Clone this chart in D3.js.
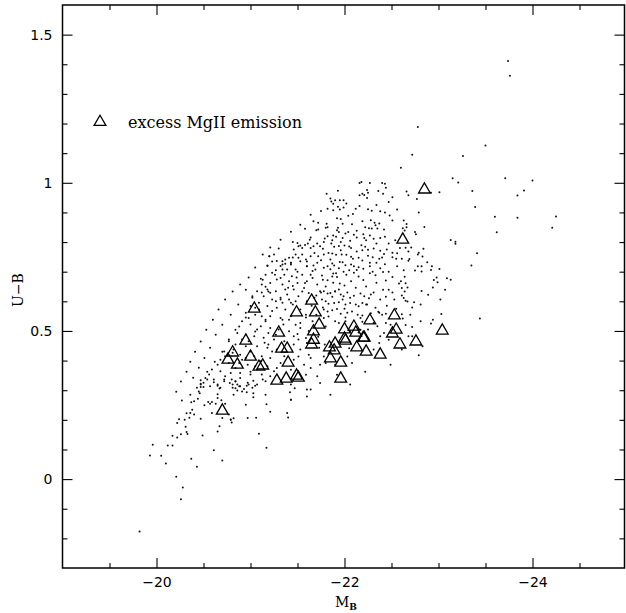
<!DOCTYPE html>
<html>
<head>
<meta charset="utf-8">
<script src="https://cdn.jsdelivr.net/npm/d3@7"></script>
<style>
  body { margin: 0; background: #fff; }
  svg { display: block; }
</style>
</head>
<body>
<svg id="chart" width="626" height="613"></svg>
<script>
// Absolute B magnitude vs. U-B colour for the full sample (dots)
// and the objects with excess MgII emission (triangles).
const galaxies = [
  // bright, red tail
  [-23.74,1.411],[-23.76,1.361],[-23.50,1.126],[-23.26,1.090],[-22.78,1.188],[-22.72,1.095],[-22.60,1.051],[-23.15,1.015],[-23.21,1.001],[-23.71,1.015],[-24.00,1.008],[-23.36,0.972],[-23.84,0.957],[-23.91,0.974],[-23.39,0.918],[-23.60,0.885],[-23.84,0.882],[-24.25,0.886],[-24.21,0.848],[-23.62,0.833],[-23.13,0.807],[-23.18,0.801],[-23.18,0.794],[-23.41,0.762],[-23.35,0.721],
  [-22.66,0.971],[-22.68,0.958],[-23.01,0.968],[-22.77,0.945],[-22.79,0.900],[-22.63,0.873],[-22.66,0.861],[-22.66,0.850],[-22.85,0.851],[-22.64,0.839],[-22.75,0.834],[-22.76,0.826],[-22.65,0.781],[-22.71,0.782],[-22.84,0.777],[-22.68,0.768],[-22.79,0.764],[-22.78,0.758],[-22.83,0.751],[-22.61,0.744],[-22.69,0.743],[-22.68,0.737],[-22.88,0.732],[-22.78,0.718],[-22.82,0.718],[-22.93,0.718],[-22.63,0.705],[-22.75,0.704],[-22.82,0.701],[-22.92,0.706],[-23.01,0.709],[-22.98,0.680],[-23.09,0.678],[-23.13,0.673],[-22.95,0.672],[-22.99,0.664],[-22.65,0.661],[-22.60,0.668],[-22.61,0.645],[-22.67,0.647],[-22.94,0.647],[-22.64,0.633],[-22.82,0.635],[-22.61,0.620],[-22.65,0.602],[-22.67,0.599],[-22.74,0.597],[-22.72,0.579],[-23.03,0.557],[-23.44,0.542],[-22.61,0.556],[-22.62,0.542],
  // upper part of the main locus
  [-22.18,1.003],[-22.16,0.999],[-22.27,0.999],[-22.40,0.999],[-22.43,0.997],[-22.24,0.976],[-22.25,0.966],[-22.36,0.972],[-22.44,0.983],[-21.93,0.973],[-21.81,0.963],[-21.85,0.947],[-21.90,0.941],[-21.95,0.941],[-21.99,0.941],[-22.16,0.958],[-22.19,0.963],[-22.21,0.959],[-22.24,0.949],[-22.41,0.963],[-22.51,0.951],[-22.92,0.966],[-21.88,0.929],[-21.93,0.919],[-21.99,0.917],[-22.16,0.922],[-22.25,0.911],[-22.29,0.906],[-22.38,0.904],[-22.43,0.900],[-21.95,0.910],[-21.88,0.907],[-21.86,0.937],[-21.82,0.912],[-22.04,0.889],[-22.09,0.895],[-21.92,0.880],[-21.96,0.878],[-22.19,0.870],[-22.28,0.874],[-22.51,0.873],[-22.32,0.865],[-22.37,0.863],[-22.33,0.857],[-21.93,0.848],[-22.26,0.847],[-22.29,0.846],[-22.35,0.846],[-22.62,0.847],[-21.92,0.840],[-21.94,0.834],[-22.01,0.829],[-22.04,0.834],[-22.13,0.838],[-22.20,0.826],[-21.88,0.822],[-21.91,0.818],[-21.98,0.814],[-22.06,0.804],[-22.13,0.815],[-22.21,0.814],[-22.23,0.806],[-22.31,0.811],[-22.38,0.814],[-22.54,0.806],[-21.87,0.806],[-21.89,0.784],[-21.94,0.787],[-22.00,0.788],[-22.05,0.785],[-22.07,0.780],[-22.18,0.789],[-22.19,0.772],[-22.22,0.784],[-22.25,0.774],[-22.31,0.778],[-22.38,0.771],[-22.45,0.775],[-22.51,0.764],[-22.59,0.780],[-21.87,0.761],[-21.91,0.757],[-21.97,0.758],[-22.02,0.757],[-22.07,0.750],[-22.09,0.744],[-22.15,0.747],[-22.19,0.738],[-22.25,0.754],[-22.30,0.749],[-22.37,0.744],[-22.42,0.760],[-22.51,0.749],[-22.55,0.744],[-21.85,0.741],[-21.87,0.728],[-21.89,0.721],[-21.95,0.733],[-21.98,0.732],[-22.01,0.722],[-22.07,0.724],[-22.10,0.718],[-22.15,0.715],[-22.27,0.730],[-22.27,0.718],[-22.34,0.730],[-22.43,0.725],[-21.85,0.708],[-21.88,0.694],[-21.91,0.695],[-21.99,0.700],[-22.02,0.690],[-22.10,0.696],[-22.13,0.706],[-22.15,0.684],[-22.27,0.695],[-22.33,0.688],[-22.41,0.699],[-22.51,0.682],[-22.64,0.683],[-21.87,0.684],[-21.92,0.682],
  [-21.88,0.663],[-22.00,0.653],[-22.12,0.646],[-22.23,0.650],[-22.34,0.663],[-22.47,0.639],
  [-21.72,0.865],[-21.81,0.862],[-21.82,0.850],[-21.58,0.845],[-21.70,0.840],[-21.80,0.848],[-21.50,0.797],[-21.51,0.786],[-21.55,0.780],[-21.58,0.790],[-21.61,0.795],[-21.64,0.780],[-21.67,0.786],[-21.71,0.795],[-21.74,0.786],[-21.77,0.777],[-21.79,0.812],[-21.82,0.820],[-21.46,0.775],[-21.41,0.747],[-21.34,0.735],[-21.20,0.752],[-21.18,0.721],[-21.48,0.758],[-21.51,0.747],[-21.55,0.758],[-21.59,0.741],[-21.64,0.752],[-21.68,0.763],[-21.72,0.752],[-21.75,0.739],[-21.78,0.758],[-21.83,0.763],[-21.37,0.727],[-21.43,0.724],[-21.60,0.718],[-21.67,0.721],[-21.82,0.718],
  // densest part of the locus
  [-21.75,0.905],[-22.02,0.930],[-22.12,0.912],[-22.34,0.925],[-22.47,0.935],[-22.08,0.860],[-22.22,0.850],[-22.42,0.842],[-22.48,0.890],[-21.98,0.862],[-21.67,0.870],[-22.56,0.910],
  [-21.86,0.795],[-21.96,0.800],[-22.10,0.825],[-22.27,0.822],[-22.43,0.818],[-22.47,0.795],[-22.34,0.795],[-22.13,0.768],[-21.96,0.772],[-21.78,0.800],[-21.63,0.808],[-21.45,0.800],[-21.30,0.778],[-22.56,0.762],[-22.40,0.748],
  [-21.94,0.712],[-22.05,0.705],[-22.20,0.710],[-22.38,0.712],[-22.47,0.700],[-22.56,0.718],[-22.20,0.672],[-22.07,0.668],[-21.95,0.660],[-21.80,0.650],[-21.64,0.690],[-21.50,0.700],[-21.58,0.662],[-21.45,0.652],[-21.26,0.690],[-22.44,0.670],[-22.58,0.660],[-22.30,0.700],
  [-21.70,0.620],[-21.87,0.615],[-22.00,0.575],[-22.26,0.610],[-22.45,0.585],[-22.55,0.575],[-21.65,0.585],[-21.48,0.600],[-21.27,0.600],[-21.12,0.630],[-22.28,0.560],[-21.70,0.555],
  [-21.80,0.515],[-21.62,0.500],[-21.50,0.490],[-22.25,0.505],[-22.47,0.470],[-21.72,0.480],[-22.65,0.520],[-21.15,0.460],[-20.98,0.465],[-20.88,0.515],
  // middle and faint side of the locus
  [-21.20,0.752],[-21.28,0.736],[-21.37,0.741],[-21.32,0.719],[-21.39,0.707],[-21.23,0.696],[-21.16,0.690],[-21.36,0.690],[-21.28,0.674],[-21.41,0.668],[-21.21,0.662],[-21.34,0.657],[-21.12,0.657],[-21.07,0.634],[-21.18,0.640],[-21.27,0.634],[-21.37,0.640],[-21.14,0.617],[-21.23,0.606],[-21.32,0.612],[-21.41,0.606],[-21.09,0.595],[-21.00,0.584],[-21.18,0.584],[-21.28,0.578],[-21.37,0.572],[-20.95,0.561],[-21.05,0.555],[-21.12,0.550],[-21.21,0.550],[-21.32,0.544],[-21.41,0.538],[-20.91,0.533],[-21.00,0.522],[-21.11,0.516],[-21.21,0.510],[-21.30,0.505],[-20.86,0.493],[-20.95,0.488],[-21.04,0.482],[-21.14,0.477],[-21.25,0.471],[-21.36,0.465],[-20.77,0.465],[-20.84,0.454],[-20.95,0.448],[-21.07,0.448],[-21.18,0.443],[-21.28,0.437],[-20.72,0.431],[-20.81,0.426],[-20.89,0.420],[-21.04,0.415],[-21.12,0.415],[-21.21,0.409],[-21.36,0.415],[-20.68,0.403],[-20.77,0.392],[-20.88,0.392],[-20.97,0.386],[-21.05,0.381],[-21.18,0.381],[-21.28,0.375],[-20.59,0.370],[-20.68,0.364],[-20.79,0.358],[-20.89,0.358],[-21.00,0.353],[-21.12,0.353],[-21.21,0.347],[-20.52,0.341],[-20.61,0.336],[-20.72,0.330],[-20.84,0.330],[-20.97,0.325],[-21.07,0.319],[-20.47,0.319],[-20.57,0.313],[-20.68,0.308],[-20.81,0.308],[-20.93,0.304],
  [-21.25,0.758],[-21.34,0.724],[-21.18,0.719],[-21.43,0.730],[-21.27,0.705],[-21.11,0.676],[-21.32,0.679],[-21.16,0.649],[-21.02,0.617],[-21.21,0.629],[-21.39,0.623],[-21.05,0.578],[-21.23,0.567],[-21.34,0.595],[-20.98,0.544],[-21.16,0.533],[-21.35,0.522],[-21.07,0.505],[-20.91,0.471],[-21.19,0.493],[-20.82,0.437],[-21.00,0.431],[-21.23,0.431],[-20.73,0.415],[-20.95,0.409],[-21.11,0.398],[-20.65,0.386],[-20.84,0.375],[-21.07,0.370],[-21.25,0.364],[-20.56,0.353],[-20.73,0.347],[-20.89,0.341],[-21.16,0.330],[-20.50,0.325],[-20.65,0.319],[-21.02,0.308],[-20.43,0.308],[-20.86,0.319],[-21.32,0.392],
  [-21.43,0.730],[-21.48,0.707],[-21.53,0.735],[-21.60,0.718],[-21.66,0.702],[-21.71,0.730],[-21.78,0.713],[-21.44,0.685],[-21.50,0.662],[-21.55,0.690],[-21.60,0.668],[-21.66,0.679],[-21.71,0.657],[-21.76,0.687],[-21.82,0.671],[-21.46,0.640],[-21.51,0.617],[-21.57,0.645],[-21.62,0.628],[-21.74,0.634],[-21.43,0.595],[-21.53,0.572],[-21.60,0.600],[-21.43,0.550],[-21.53,0.527],[-21.59,0.555],[-21.66,0.533],[-21.41,0.499],[-21.46,0.482],[-21.53,0.510],[-21.59,0.476],[-21.46,0.454],[-21.53,0.437],[-21.60,0.459],[-21.73,0.443],[-21.46,0.403],[-21.51,0.414],[-21.57,0.386],[-21.64,0.409],[-21.43,0.369],[-21.59,0.352],[-21.64,0.375],[-21.71,0.347],[-21.43,0.319],[-21.60,0.302],[-21.74,0.324],[-21.43,0.268],[-21.60,0.279],[-21.39,0.223],
  [-21.75,0.630],[-21.78,0.634],[-21.82,0.626],[-21.85,0.628],[-21.90,0.634],[-21.94,0.640],[-21.96,0.623],[-21.99,0.617],[-22.03,0.630],[-22.10,0.619],[-22.17,0.626],[-22.21,0.617],[-22.28,0.623],[-22.31,0.630],[-22.38,0.606],[-22.44,0.615],[-22.51,0.630],[-22.63,0.611],
  [-21.76,0.606],[-21.80,0.600],[-21.83,0.592],[-21.89,0.594],[-21.94,0.597],[-21.98,0.606],[-22.01,0.589],[-22.06,0.594],[-22.12,0.589],[-22.15,0.583],[-22.19,0.594],[-22.24,0.589],[-22.33,0.578],[-22.37,0.561],[-22.40,0.555],[-22.44,0.558],[-21.78,0.572],[-21.82,0.566],[-21.87,0.570],[-21.92,0.574],[-21.96,0.558],[-22.03,0.561],[-22.08,0.566],[-22.14,0.555],[-22.17,0.544],[-22.19,0.552],[-21.78,0.544],[-21.83,0.549],[-21.90,0.533],[-21.94,0.527],[-22.01,0.533],[-22.31,0.527],[-22.35,0.516],[-22.44,0.527],[-22.72,0.513],[-22.81,0.533],[-22.92,0.525],
  [-22.42,0.493],[-22.37,0.459],[-22.38,0.482],[-22.17,0.504],[-22.15,0.495],[-22.06,0.499],[-22.68,0.482],[-22.72,0.482],[-22.83,0.448],[-22.79,0.418],[-22.61,0.437],[-22.31,0.437],[-22.08,0.392],[-22.03,0.414],[-22.05,0.442],[-21.78,0.414],[-21.80,0.392],[-21.90,0.386],[-21.92,0.352],
  // upper-left edge and inner filling of the locus
  [-21.13,0.758],[-21.21,0.782],[-21.32,0.808],[-21.43,0.835],[-21.53,0.858],[-21.64,0.892],
  [-21.05,0.714],[-20.98,0.680],[-20.89,0.657],[-20.81,0.633],[-20.73,0.606],[-20.66,0.572],[-20.60,0.538],[-20.53,0.504],[-20.47,0.464],[-20.41,0.430],[-20.36,0.396],[-20.32,0.362],[-20.26,0.329],[-20.21,0.295],
  [-20.95,0.639],[-21.02,0.612],[-20.87,0.589],[-20.79,0.555],[-20.70,0.521],[-20.63,0.487],[-20.57,0.443],[-20.51,0.409],[-20.45,0.376],[-20.39,0.342],[-20.95,0.545],[-20.84,0.504],[-20.77,0.471],[-20.70,0.430],[-20.62,0.396],[-20.54,0.362],[-20.47,0.322],[-20.36,0.285],
  [-21.13,0.673],[-21.19,0.633],[-21.09,0.572],[-21.16,0.538],[-21.05,0.498],[-21.19,0.454],[-20.91,0.403],[-21.00,0.362],[-20.81,0.319],
  [-21.23,0.734],[-21.34,0.707],[-21.45,0.748],[-21.53,0.788],[-21.64,0.815],[-21.72,0.842],[-21.60,0.734],[-21.69,0.707],[-21.77,0.673],[-21.49,0.680],[-21.40,0.646],[-21.32,0.606],[-21.45,0.589],[-21.55,0.633],[-21.68,0.612],[-21.77,0.579],[-21.59,0.545],[-21.48,0.521],[-21.34,0.538],[-21.27,0.487],[-21.51,0.471],[-21.79,0.454],[-21.62,0.420],[-21.74,0.386],
  [-21.16,0.285],[-21.43,0.268],[-21.64,0.302],[-21.85,0.285],[-22.06,0.319],[-22.22,0.362],[-22.49,0.386],[-20.95,0.251],[-21.21,0.227],[-20.79,0.201],[-21.09,0.153],
  [-21.90,0.633],[-22.06,0.612],[-22.23,0.589],[-22.41,0.639],[-22.53,0.606],[-22.01,0.545],[-22.19,0.531],[-22.36,0.565],[-22.49,0.521],[-22.70,0.555],[-22.81,0.589],[-22.89,0.622],[-23.02,0.606],[-23.07,0.639],[-22.94,0.538],
  // faint, blue tail
  [-20.27,0.265],[-20.37,0.259],[-20.40,0.263],[-20.46,0.290],[-20.44,0.271],[-20.51,0.249],[-20.55,0.260],[-20.57,0.254],[-20.59,0.260],[-20.63,0.254],[-20.65,0.286],[-20.65,0.274],[-20.69,0.266],[-20.73,0.254],[-20.32,0.222],[-20.36,0.223],[-20.40,0.218],[-20.38,0.234],[-20.59,0.223],[-20.24,0.202],[-20.30,0.200],[-20.35,0.207],[-20.47,0.204],[-20.22,0.189],[-20.31,0.177],[-20.70,0.206],[-20.77,0.218],[-20.79,0.200],[-20.80,0.191],[-20.82,0.205],[-20.97,0.206],[-21.06,0.207],[-21.40,0.208],[-21.17,0.253],[-20.17,0.146],[-20.22,0.140],[-20.26,0.151],[-20.32,0.159],[-20.33,0.152],[-20.67,0.178],[-20.65,0.161],[-20.49,0.147],[-19.96,0.116],[-20.12,0.113],[-20.17,0.113],[-19.93,0.080],[-20.05,0.079],[-20.10,0.053],[-20.37,0.069],[-20.43,0.042],[-20.61,0.097],[-20.70,0.063],[-21.17,0.106],[-20.21,0.008],[-20.28,-0.028],[-20.26,-0.068],[-19.82,-0.177],
  [-20.47,0.334],[-20.54,0.336],[-20.61,0.327],[-20.65,0.315],[-20.67,0.306],[-20.72,0.336],[-20.78,0.324],[-20.80,0.336],[-20.84,0.329],[-20.88,0.313],[-20.84,0.307],[-20.47,0.311],[-20.50,0.311],[-20.45,0.296],[-20.89,0.313],[-20.96,0.315],[-20.98,0.319],[-21.03,0.332],[-21.05,0.315],[-20.91,0.296],[-20.96,0.293],[-21.03,0.290],[-21.03,0.276],[-20.82,0.285],[-20.86,0.299],[-21.42,0.293],[-21.47,0.307],[-21.13,0.336]
];

// Objects with excess MgII emission
const mgIIExcess = [
  [-22.85,0.977],[-22.62,0.808],[-21.65,0.602],[-21.04,0.575],[-21.49,0.562],[-21.69,0.562],[-21.73,0.521],[-21.30,0.494],[-21.67,0.498],[-20.95,0.467],[-21.67,0.470],[-21.65,0.454],[-21.33,0.440],[-21.39,0.440],[-20.81,0.427],[-21.00,0.413],[-20.76,0.403],[-20.86,0.386],[-21.40,0.393],[-21.13,0.383],[-21.09,0.379],[-21.28,0.332],[-21.38,0.339],[-21.49,0.349],[-21.51,0.342],[-20.70,0.231],[-21.96,0.339],[-21.96,0.393],[-21.85,0.407],[-21.89,0.434],[-21.84,0.444],[-21.90,0.457],[-22.01,0.467],[-22.00,0.474],[-22.00,0.505],[-22.10,0.514],[-22.12,0.494],[-22.20,0.477],[-22.21,0.477],[-22.27,0.535],[-22.13,0.444],[-22.23,0.430],[-22.38,0.420],[-22.53,0.552],[-22.55,0.504],[-22.51,0.491],[-22.59,0.454],[-22.76,0.464],[-23.04,0.501]
];

const xMajorTicks = [-20, -22, -24];
const xTickLabels = ["\u221220", "\u221222", "\u221224"];
const xMinorTicks = [-19.5, -20.5, -21, -21.5, -22.5, -23, -23.5, -24.5];
const yMajorTicks = [0, 0.5, 1, 1.5];
const yTickLabels = ["0", "0.5", "1", "1.5"];
const yMinorTicks = [-0.2, -0.1, 0.1, 0.2, 0.3, 0.4, 0.6, 0.7, 0.8, 0.9, 1.1, 1.2, 1.3, 1.4];
const legendLabel = "excess MgII emission";

const svg = d3.select("#chart");
const frame = { left: 62.5, top: 5, right: 624.5, bottom: 568 };

const x = d3.scaleLinear().domain([-19, -25]).range([62.5, 626.5]);
const y = d3.scaleLinear().domain([-0.3, 1.6]).range([frame.bottom, frame.top]);

const tickFont = "DejaVu Sans, sans-serif";
const textFont = "DejaVu Serif, serif";

function styleAxis(g) {
  g.select(".domain").remove();
  g.selectAll(".tick line").attr("stroke", "#000").attr("stroke-width", 1.1);
  g.selectAll(".tick text").attr("fill", "#000").attr("font-family", tickFont).attr("font-size", 14);
}

// bottom
svg.append("g").attr("transform", `translate(0,${frame.bottom})`)
  .call(d3.axisBottom(x).tickValues(xMajorTicks).tickSize(-10).tickPadding(9)
    .tickFormat((d, i) => xTickLabels[i])).call(styleAxis);
svg.append("g").attr("transform", `translate(0,${frame.bottom})`)
  .call(d3.axisBottom(x).tickValues(xMinorTicks).tickSize(-5).tickFormat("")).call(styleAxis);
// top
svg.append("g").attr("transform", `translate(0,${frame.top})`)
  .call(d3.axisTop(x).tickValues(xMajorTicks).tickSize(-10).tickFormat("")).call(styleAxis);
svg.append("g").attr("transform", `translate(0,${frame.top})`)
  .call(d3.axisTop(x).tickValues(xMinorTicks).tickSize(-5).tickFormat("")).call(styleAxis);
// left
svg.append("g").attr("transform", `translate(${frame.left},0)`)
  .call(d3.axisLeft(y).tickValues(yMajorTicks).tickSize(-10).tickPadding(10)
    .tickFormat((d, i) => yTickLabels[i])).call(styleAxis);
svg.append("g").attr("transform", `translate(${frame.left},0)`)
  .call(d3.axisLeft(y).tickValues(yMinorTicks).tickSize(-5).tickFormat("")).call(styleAxis);
// right
svg.append("g").attr("transform", `translate(${frame.right},0)`)
  .call(d3.axisRight(y).tickValues(yMajorTicks).tickSize(-10).tickFormat("")).call(styleAxis);
svg.append("g").attr("transform", `translate(${frame.right},0)`)
  .call(d3.axisRight(y).tickValues(yMinorTicks).tickSize(-5).tickFormat("")).call(styleAxis);

// frame
svg.append("rect")
  .attr("x", frame.left).attr("y", frame.top)
  .attr("width", frame.right - frame.left).attr("height", frame.bottom - frame.top)
  .attr("fill", "none").attr("stroke", "#000").attr("stroke-width", 1.5);

// sample points
svg.append("g").selectAll("circle").data(galaxies).join("circle")
  .attr("cx", d => x(d[0])).attr("cy", d => y(d[1]))
  .attr("r", 1.0).attr("fill", "#111");

// MgII-excess objects
const tri = d3.symbol().type(d3.symbolTriangle).size(60);
svg.append("g").selectAll("path").data(mgIIExcess).join("path")
  .attr("d", tri)
  .attr("transform", d => `translate(${x(d[0])},${y(d[1])})`)
  .attr("fill", "none").attr("stroke", "#000").attr("stroke-width", 1.3);

// legend
svg.append("path").attr("d", tri)
  .attr("transform", "translate(100,122)")
  .attr("fill", "none").attr("stroke", "#000").attr("stroke-width", 1.3);
svg.append("text").attr("x", 128).attr("y", 128)
  .attr("font-family", textFont).attr("font-size", 16).attr("fill", "#000")
  .text(legendLabel);

// axis titles
const xt = svg.append("text").attr("x", 335).attr("y", 607)
  .attr("font-family", textFont).attr("font-size", 14).attr("fill", "#000");
xt.append("tspan").text("M");
xt.append("tspan").attr("font-size", 9).attr("font-weight", "bold").attr("dy", 3).text("B");

svg.append("text")
  .attr("transform", "translate(23,290) rotate(-90)")
  .attr("text-anchor", "middle")
  .attr("font-family", textFont).attr("font-size", 14).attr("fill", "#000")
  .text("U\u2212B");
</script>
</body>
</html>
